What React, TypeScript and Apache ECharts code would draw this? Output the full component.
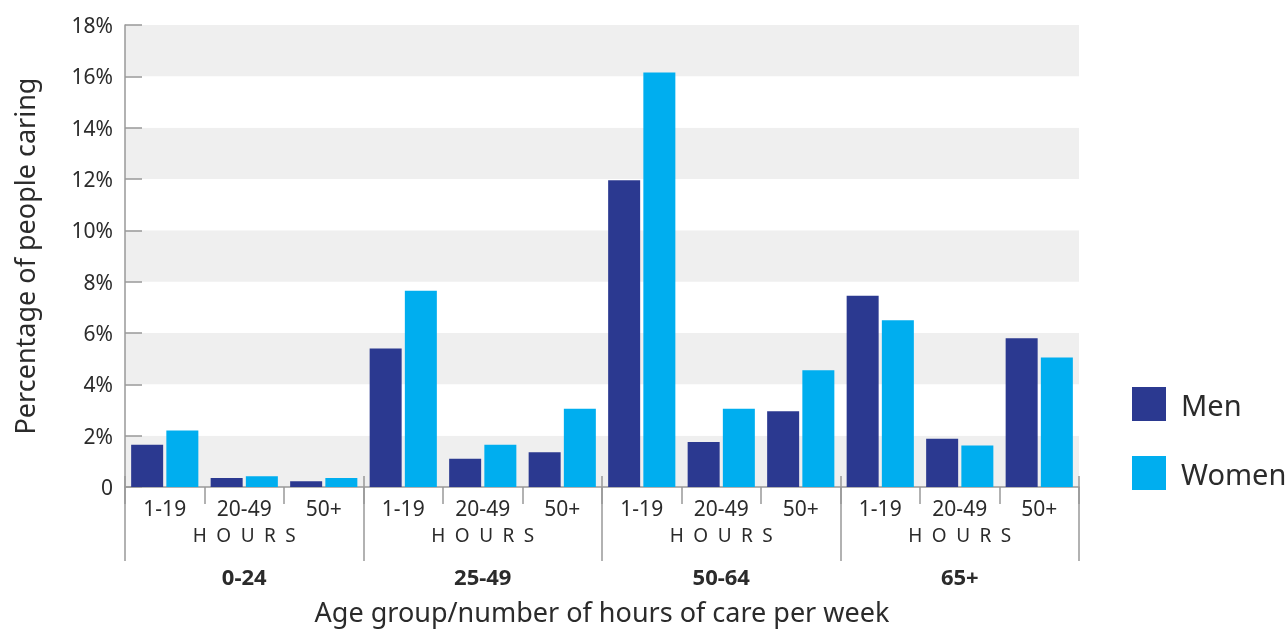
import React, { useEffect, useRef } from "react";
import * as echarts from "echarts";

const ageGroups = ["0-24", "25-49", "50-64", "65+"];
const hourBands = ["1-19", "20-49", "50+"];
const hoursWord = "H\u2002O\u2002U\u2002R\u2002S";
const yTicks = [0, 2, 4, 6, 8, 10, 12, 14, 16, 18];
const menValues = [1.65, 0.35, 0.22, 5.4, 1.1, 1.35, 11.95, 1.75, 2.95, 7.45, 1.88, 5.8];
const womenValues = [2.2, 0.42, 0.35, 7.65, 1.65, 3.05, 16.15, 3.05, 4.55, 6.5, 1.62, 5.05];
const seriesNames = ["Men", "Women"];
const xTitle = "Age group/number of hours of care per week";
const yTitle = "Percentage of people caring";

const FONT = "'Noto Sans', 'Open Sans', sans-serif";
const TEXT = "#2b2b2b";
const AXIS = "#999999";

export default function App() {
  const ref = useRef<HTMLDivElement>(null);
  useEffect(() => {
    if (!ref.current) return;
    const chart = echarts.init(ref.current, undefined, { renderer: "svg" });
    const cats: string[] = [];
    ageGroups.forEach((g) => hourBands.forEach((h) => cats.push(g + "|" + h)));
    chart.setOption({
      animation: false,
      textStyle: { fontFamily: FONT },
      grid: { left: 125, right: 209, top: 25, bottom: 141 },
      legend: {
        orient: "vertical",
        left: 1127,
        top: 382,
        itemWidth: 34,
        itemHeight: 34,
        itemGap: 35,
        icon: "rect",
        data: seriesNames,
        textStyle: { fontFamily: FONT, fontSize: 29, color: TEXT, padding: [0, 0, 0, 10] },
      },
      xAxis: [
        {
          type: "category",
          data: cats,
          position: "bottom",
          axisLine: { show: true, lineStyle: { color: AXIS, width: 1.5 } },
          axisTick: { show: true, length: 17, interval: 0, lineStyle: { color: AXIS, width: 1.5 } },
          axisLabel: {
            interval: 0,
            margin: 7,
            color: TEXT,
            fontFamily: FONT,
            fontSize: 21,
            lineHeight: 27,
            formatter: (v: string) => {
              const h = v.split("|")[1];
              return h === hourBands[1] ? h + "\n{h|" + hoursWord + "}" : h;
            },
            rich: { h: { fontSize: 19, color: TEXT, fontFamily: FONT, lineHeight: 27 } },
          },
        },
        {
          type: "category",
          data: ageGroups,
          position: "bottom",
          offset: -11,
          axisLine: { show: false },
          axisTick: { show: true, length: 85, interval: 0, lineStyle: { color: AXIS, width: 1.5 } },
          axisLabel: {
            interval: 0,
            margin: 89,
            color: TEXT,
            fontFamily: FONT,
            fontSize: 22,
            fontWeight: "bold",
          },
          name: xTitle,
          nameLocation: "middle",
          nameGap: 122,
          nameTextStyle: { fontFamily: FONT, fontSize: 27, color: TEXT },
        },
      ],
      yAxis: {
        type: "value",
        min: 0,
        max: 18,
        interval: 2,
        axisLine: { show: true, lineStyle: { color: AXIS, width: 1.5 } },
        axisTick: { show: true, inside: true, length: 17, lineStyle: { color: AXIS, width: 1.5 } },
        axisLabel: {
          margin: 12,
          color: TEXT,
          fontFamily: FONT,
          fontSize: 21,
          formatter: (v: number) => (v === 0 ? "0" : v + "%"),
          customValues: yTicks,
        },
        splitLine: { show: false },
        splitArea: { show: true, areaStyle: { color: ["#efefef", "#ffffff"] } },
        name: yTitle,
        nameLocation: "middle",
        nameGap: 87,
        nameTextStyle: { fontFamily: FONT, fontSize: 27, color: TEXT },
      },
      series: [
        {
          name: seriesNames[0],
          type: "bar",
          xAxisIndex: 0,
          data: menValues,
          barWidth: 32,
          barGap: "10%",
          itemStyle: { color: "#2b3990" },
        },
        {
          name: seriesNames[1],
          type: "bar",
          xAxisIndex: 0,
          data: womenValues,
          barWidth: 32,
          barGap: "10%",
          itemStyle: { color: "#00aeef" },
        },
      ],
    });
    return () => chart.dispose();
  }, []);
  return <div ref={ref} style={{ position: "fixed", left: 0, top: 0, width: 1288, height: 630 }} />;
}
